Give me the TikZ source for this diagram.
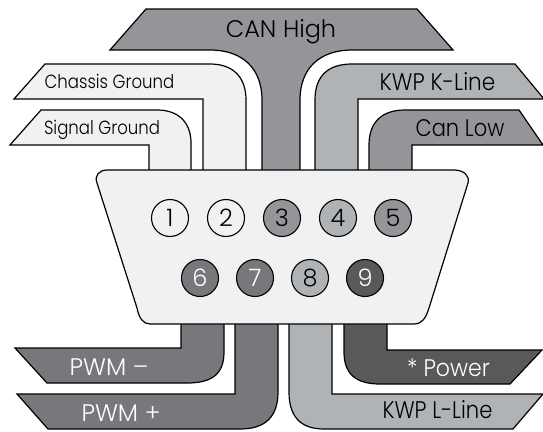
\documentclass[tikz,border=0pt]{standalone}
\usepackage{fontspec}
\setmainfont{Poppins Light}
\definecolor{lite}{HTML}{F1F1F2}
\definecolor{midg}{HTML}{939598}
\definecolor{pale}{HTML}{B0B3B5}
\definecolor{darkg}{HTML}{77787B}
\definecolor{deep}{HTML}{58595B}
\newcommand{\fsz}[1]{\fontsize{#1}{#1}\selectfont}
\newcommand{\nar}[2]{\scalebox{#1}[1]{#2}}
\tikzset{
  wire/.style={draw=black,line width=1.2pt,line join=miter},
  pin/.style={circle,draw=black,line width=1.1pt,minimum size=37pt,inner sep=0pt,font=\fsz{24}},
  pinw/.style={pin,text=white},
  lab/.style={inner sep=0pt,anchor=base},
}
\begin{document}
\begin{tikzpicture}[x=1pt,y=-1pt]
\useasboundingbox (0,0) rectangle (543,431);
% upper wires
\draw[wire,fill=midg] (146,9) -- (417,9) -- (453,50) -- (352,50) .. controls (320,50) and (300,68) .. (300,100) -- (300,172) -- (262,172) -- (262,100) .. controls (262,68) and (242,50) .. (210,50) -- (110,50) -- cycle;
\draw[wire,fill=lite] (45,64) -- (210,64) .. controls (234,64) and (246,78) .. (246,100) -- (246,172) -- (203,172) -- (203,99) -- (14,99) -- cycle;
\draw[wire,fill=lite] (41,110) -- (157,110) .. controls (180,110) and (191,124) .. (191,143) -- (191,172) -- (149,172) -- (149,145) -- (10,145) -- cycle;
\draw[wire,fill=pale] (515,64) -- (544,99) -- (358,99) -- (358,172) -- (315,172) -- (315,100) .. controls (315,76) and (328,64) .. (352,64) -- cycle;
\draw[wire,fill=midg] (519,110) -- (543,145) -- (412,145) -- (412,172) -- (369,172) -- (369,145) .. controls (369,122) and (382,110) .. (405,110) -- cycle;
% lower wires
\draw[wire,fill=darkg] (15,348) -- (181,348) -- (181,322) -- (224,322) -- (224,352) .. controls (224,374) and (212,383) .. (187,383) -- (47,383) -- cycle;
\draw[wire,fill=darkg] (17,394) -- (235,394) -- (235,322) -- (278,322) -- (278,392) .. controls (278,416) and (266,429) .. (240,429) -- (48,429) -- cycle;
\draw[wire,fill=pale] (289,322) -- (289,392) .. controls (289,416) and (300,429) .. (324,429) -- (513,429) -- (543,394) -- (332,394) -- (332,322) -- cycle;
\draw[wire,fill=deep] (344,322) -- (344,352) .. controls (344,374) and (356,384) .. (380,384) -- (510,384) -- (542,350) -- (387,350) -- (387,322) -- cycle;
% connector shell
\draw[wire,fill=lite] (107,170) -- (454,170) .. controls (464,170) and (470,176) .. (468,183) -- (429,308) .. controls (426,318) and (422,324) .. (414,324) -- (150,324) .. controls (143,324) and (139,318) .. (137,308) -- (97,183) .. controls (94,176) and (99,170) .. (107,170) -- cycle;
% pins
\node[pin,fill=lite] (p1) at (170,218) {1};
\node[pin,fill=lite] (p2) at (226,218) {2};
\node[pin,fill=midg] (p3) at (282,218) {3};
\node[pin,fill=pale] (p4) at (338,218) {4};
\node[pin,fill=midg] (p5) at (393,218) {5};
\node[pinw,fill=darkg] (p6) at (200,278) {6};
\node[pinw,fill=darkg] (p7) at (255,278) {7};
\node[pin,fill=pale] (p8) at (310,278) {8};
\node[pinw,fill=deep] (p9) at (365,278) {9};
% labels
\node[lab,font=\fsz{24}] (canh) at (281,37) {CAN High};
\node[lab,font=\fsz{19}] (chas) at (109.5,88.5) {\nar{.87}{Chassis Ground}};
\node[lab,font=\fsz{19}] (sig) at (102,134.5) {\nar{.87}{Signal Ground}};
\node[lab,font=\fsz{24}] (kwpk) at (437.5,90) {\nar{.9}{KWP K-Line}};
\node[lab,font=\fsz{24}] (canl) at (460,136.5) {\nar{.875}{Can Low}};
\node[lab,font=\fsz{24},text=white] (pwmm) at (109,375) {PWM –};
\node[lab,font=\fsz{24},text=white] (pwmp) at (121,421) {PWM +};
\node[lab,font=\fsz{24},text=white] (pow) at (448.5,376) {\nar{.92}{* Power}};
\node[lab,font=\fsz{24}] (kwpl) at (437.5,418) {\nar{.88}{KWP L-Line}};
\end{tikzpicture}
\end{document}
